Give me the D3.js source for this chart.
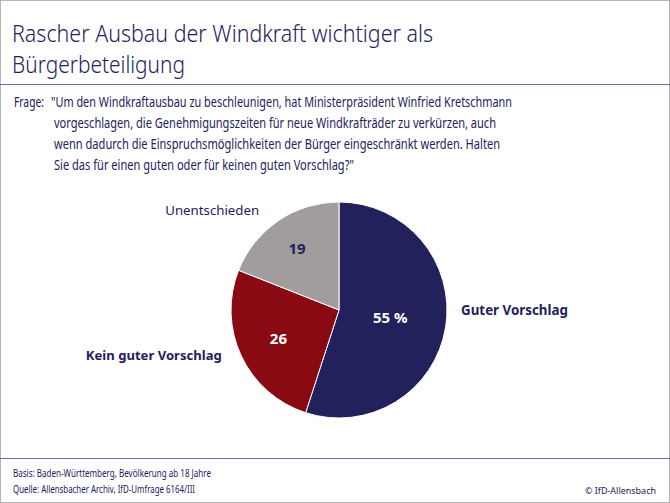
<!DOCTYPE html>
<html>
<head>
<meta charset="utf-8">
<script src="https://cdn.jsdelivr.net/npm/d3@7"></script>
<style>
  body { margin: 0; background: #fff; }
  svg { display: block; font-family: "Noto Sans", "DejaVu Sans", sans-serif; }
</style>
</head>
<body>
<div id="chart"></div>
<script>

// data

var categories = ["Guter Vorschlag", "Kein guter Vorschlag", "Unentschieden"],
    values = [55, 26, 19],
    valueLabels = ["55 %", "26", "19"],
    colors = ["#22215c", "#8a0a14", "#a19d9d"];

var titleLines = ["Rascher Ausbau der Windkraft wichtiger als", "Bürgerbeteiligung"],
    questionLines = [
      "\"Um den Windkraftausbau zu beschleunigen, hat Ministerpräsident Winfried Kretschmann",
      "vorgeschlagen, die Genehmigungszeiten für neue Windkrafträder zu verkürzen, auch",
      "wenn dadurch die Einspruchsmöglichkeiten der Bürger eingeschränkt werden. Halten",
      "Sie das für einen guten oder für keinen guten Vorschlag?\""
    ],
    footerLines = ["Basis: Baden-Württemberg, Bevölkerung ab 18 Jahre", "Quelle: Allensbacher Archiv, IfD-Umfrage 6164/III"];

var width = 670,
    height = 503,
    navy = "#22215c",
    rule = "#6b68a8";

var svg = d3.select("#chart")
  .append("svg")
    .attr("width", width)
    .attr("height", height);

// scale the font size of a text so that it is the wanted width

function fitWidth(sel, target, base) {
  sel.attr("font-size", base);
  var w = sel.node().getComputedTextLength();
  sel.attr("font-size", base * target / w);
}

// frame and rules

svg.append("rect")
  .attr("x", 0.5).attr("y", 0.5)
  .attr("width", width - 1).attr("height", height - 1)
  .attr("fill", "none")
  .attr("stroke", "#b5b5b5");

svg.append("line")
  .attr("x1", 0).attr("x2", width)
  .attr("y1", 84.5).attr("y2", 84.5)
  .attr("stroke", rule).attr("stroke-width", 1.2);

svg.append("line")
  .attr("x1", 0).attr("x2", width)
  .attr("y1", 458.5).attr("y2", 458.5)
  .attr("stroke", rule).attr("stroke-width", 1.2);

// title

var titleWidths = [421, 173];

svg.selectAll(".title")
  .data(titleLines)
  .enter()
  .append("text")
    .attr("class", "title")
    .attr("x", 12)
    .attr("y", function(d, i) { return 42 + i * 31; })
    .attr("font-size", 24)
    .attr("font-weight", 300)
    .attr("fill", navy)
    .attr("textLength", function(d, i) { return titleWidths[i]; })
    .attr("lengthAdjust", "spacingAndGlyphs")
    .text(function(d) { return d; });

// question

svg.append("text")
  .attr("x", 14)
  .attr("y", 107)
  .attr("font-size", 13.5)
  .attr("fill", navy)
  .attr("textLength", 30)
  .attr("lengthAdjust", "spacingAndGlyphs")
  .text("Frage:");

var questionWidths = [461, 442, 446, 300];

svg.selectAll(".question")
  .data(questionLines)
  .enter()
  .append("text")
    .attr("class", "question")
    .attr("x", function(d, i) { return i == 0 ? 51 : 54; })
    .attr("y", function(d, i) { return 107 + i * 21; })
    .attr("font-size", 13.5)
    .attr("fill", navy)
    .attr("textLength", function(d, i) { return questionWidths[i]; })
    .attr("lengthAdjust", "spacingAndGlyphs")
    .text(function(d) { return d; });

// pie

var cx = 339, cy = 310, radius = 108;

var pie = d3.pie().sort(null).value(function(d) { return d; });
var arcs = pie(values);

var arc = d3.arc().innerRadius(0).outerRadius(radius);

var g = svg.append("g")
  .attr("transform", "translate(" + cx + "," + cy + ")");

g.selectAll(".slice")
  .data(arcs)
  .enter()
  .append("path")
    .attr("class", "slice")
    .attr("d", arc)
    .attr("fill", function(d, i) { return colors[i]; })
    .attr("stroke", "#fff")
    .attr("stroke-width", 1);

// value labels inside the slices

var labelRadius = [0.48, 0.62, 0.69];

g.selectAll(".value_label")
  .data(arcs)
  .enter()
  .append("text")
    .attr("class", "value_label")
    .attr("transform", function(d, i) {
      var r = radius * labelRadius[i];
      var c = d3.arc().innerRadius(r).outerRadius(r).centroid(d);
      return "translate(" + c[0] + "," + c[1] + ")";
    })
    .attr("text-anchor", "middle")
    .attr("dy", "0.35em")
    .attr("font-size", 15)
    .attr("font-weight", "bold")
    .attr("fill", function(d, i) { return i == 2 ? navy : "#fff"; })
    .text(function(d, i) { return valueLabels[i]; });

// category labels outside the pie

var outerArc = d3.arc().innerRadius(radius * 1.2).outerRadius(radius * 1.2);
var catAnchor = ["start", "end", "end"],
    catWeight = ["bold", "bold", "normal"],
    catWidth = [107, 136, 94],
    catShift = [[-6, -20], [0, -10], [-7, 8]];

g.selectAll(".cat_label")
  .data(arcs)
  .enter()
  .append("text")
    .attr("class", "cat_label")
    .attr("transform", function(d, i) {
      var c = outerArc.centroid(d);
      return "translate(" + (c[0] + catShift[i][0]) + "," + (c[1] + catShift[i][1]) + ")";
    })
    .attr("text-anchor", function(d, i) { return catAnchor[i]; })
    .attr("dy", "0.35em")
    .attr("font-weight", function(d, i) { return catWeight[i]; })
    .attr("fill", navy)
    .text(function(d, i) { return categories[i]; })
    .each(function(d, i) { fitWidth(d3.select(this), catWidth[i], 13.5); });

// footer

var footerWidths = [198, 182];

svg.selectAll(".footer")
  .data(footerLines)
  .enter()
  .append("text")
    .attr("class", "footer")
    .attr("x", 13)
    .attr("y", function(d, i) { return 477 + i * 16; })
    .attr("font-size", 10.5)
    .attr("fill", navy)
    .attr("textLength", function(d, i) { return footerWidths[i]; })
    .attr("lengthAdjust", "spacingAndGlyphs")
    .text(function(d) { return d; });

svg.append("text")
  .attr("x", 656)
  .attr("y", 494)
  .attr("text-anchor", "end")
  .attr("font-size", 9)
  .attr("fill", navy)
  .attr("textLength", 71)
  .attr("lengthAdjust", "spacingAndGlyphs")
  .text("© IfD-Allensbach");

</script>
</body>
</html>
